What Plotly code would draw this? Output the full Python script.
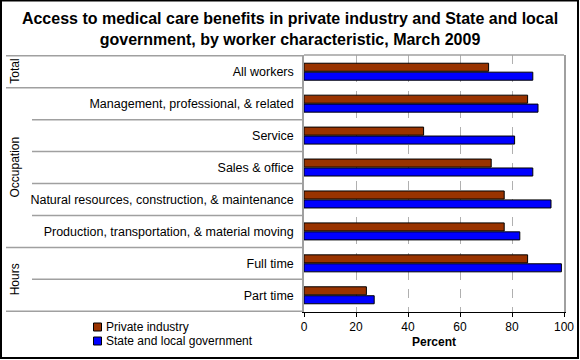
import plotly.graph_objects as go

categories = [
    "All workers",
    "Management, professional, & related",
    "Service",
    "Sales & office",
    "Natural resources, construction, & maintenance",
    "Production, transportation, & material moving",
    "Full time",
    "Part time",
]
private_industry = [71, 86, 46, 72, 77, 77, 86, 24]
state_local = [88, 90, 81, 88, 95, 83, 99, 27]
series_names = ["Private industry", "State and local government"]
series_colors = ["#993300", "#0000FF"]
groups = [("Total", 0, 0), ("Occupation", 1, 5), ("Hours", 6, 7)]
x_ticks = [0, 20, 40, 60, 80, 100]

W, H = 580, 360
L, R, T, B = 304, 16, 55, 48
pw, ph = W - L - R, H - T - B

def px_x(px):
    return (px - L) / pw

def px_y(py):
    return (H - B - py) / ph

FONT = "Liberation Sans, Arial, sans-serif"

fig = go.Figure()
for name, vals, col in zip(series_names, [private_industry, state_local], series_colors):
    fig.add_trace(go.Bar(
        y=categories, x=vals, orientation="h", name=name, showlegend=False,
        marker=dict(color=col, line=dict(color="black", width=1)),
    ))

shapes = []
group_bounds = set()
for name, a, b in groups:
    group_bounds.add(a - 0.5)
    group_bounds.add(b + 0.5)
for k in range(len(categories) + 1):
    yv = k - 0.5
    x0 = px_x(6) if yv in group_bounds else px_x(32)
    shapes.append(dict(type="line", xref="paper", yref="y", x0=x0, x1=0, y0=yv, y1=yv,
                       line=dict(color="#a0a0a0", width=1.5)))
shapes.append(dict(type="line", xref="paper", yref="paper", x0=0, x1=1, y0=1, y1=1,
                   line=dict(color="#a0a0a0", width=1.5)))
shapes.append(dict(type="rect", xref="paper", yref="paper",
                   x0=px_x(1), x1=px_x(578), y0=px_y(358), y1=px_y(0.5),
                   line=dict(color="black", width=2), fillcolor="rgba(0,0,0,0)"))

annotations = []
for name, a, b in groups:
    yc = (a + b) / 2
    annotations.append(dict(text=name, xref="paper", yref="y", x=px_x(15), y=yc,
                            xanchor="center", yanchor="middle",
                            textangle=-90, showarrow=False,
                            font=dict(family=FONT, size=12, color="black")))

# legend (drawn as key swatches + labels)
for i, (name, col) in enumerate(zip(series_names, series_colors)):
    cy = 327 + 14 * i
    shapes.append(dict(type="rect", xref="paper", yref="paper",
                       x0=px_x(93.5), x1=px_x(101.5), y0=px_y(cy + 4), y1=px_y(cy - 4),
                       fillcolor=col, line=dict(color="black", width=1)))
    annotations.append(dict(text=name, xref="paper", yref="paper", x=px_x(104), y=px_y(cy),
                            xanchor="left", yanchor="middle", showarrow=False,
                            font=dict(family=FONT, size=12, color="black")))

fig.update_layout(
    width=W, height=H,
    margin=dict(l=L, r=R, t=T, b=B, autoexpand=False),
    paper_bgcolor="white", plot_bgcolor="white",
    barmode="group", bargap=0.44, bargroupgap=0.1,
    showlegend=False,
    title=dict(text="Access to medical care benefits in private industry and State and local<br>government, by worker characteristic, March 2009",
               x=0.5, xref="container", xanchor="center", y=1 - 24 / H, yref="container",
               yanchor="top",
               font=dict(family=FONT, size=16, color="black", weight="bold")),
    font=dict(family=FONT, size=12, color="black"),
    xaxis=dict(range=[0, 100], tickvals=x_ticks, showgrid=True, gridcolor="#b0b0b0",
               griddash="dash", gridwidth=1, showline=True, linecolor="black", linewidth=1,
               ticks="outside", ticklen=4, tickcolor="black", zeroline=False,
               title=dict(text="<b>Percent</b>", standoff=4, font=dict(size=12)),
               tickfont=dict(size=12)),
    yaxis=dict(categoryorder="array", categoryarray=categories, autorange="reversed",
               showline=True, linecolor="#a0a0a0", linewidth=1.5, mirror=True,
               showgrid=False, ticks="", ticklabelstandoff=6, tickfont=dict(size=12.5)),
    shapes=shapes, annotations=annotations,
)

fig.write_html("out.html", config={"displayModeBar": False},
               post_script="document.body.style.margin='0';document.body.style.overflow='hidden';")
